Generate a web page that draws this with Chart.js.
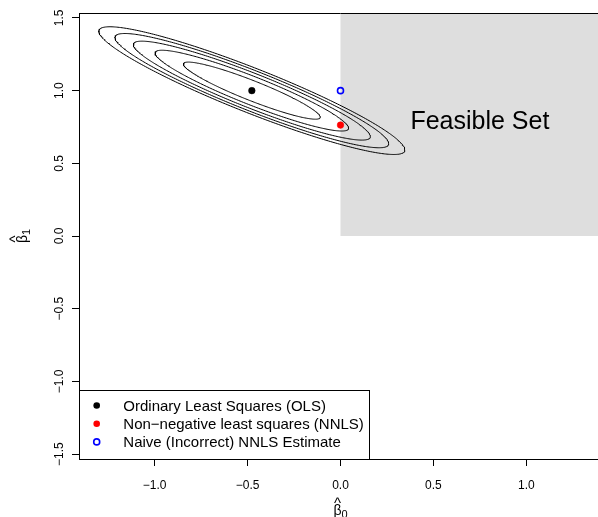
<!DOCTYPE html>
<html>
<head>
<meta charset="utf-8">
<script src="https://cdn.jsdelivr.net/npm/chart.js@4.4.1/dist/chart.umd.min.js"></script>
<style>
  html, body { margin: 0; padding: 0; background: #fff; overflow: hidden; }
  #wrap { width: 598px; height: 517px; overflow: hidden; }
</style>
</head>
<body>
<div id="wrap"><canvas id="chart" width="610" height="517" style="width:610px;height:517px"></canvas></div>
<script>
const FONT = "'Liberation Sans', Arial, Helvetica, sans-serif";

// estimates (beta0, beta1)
const olsPoint = [-0.477, 1.0];
const nnlsPoint = [0.0, 0.763];
const naivePoint = [0.0, 1.0];

// contour levels of the least squares criterion, relative to its minimum
const contourLevels = [1, 2, 3, 4, 5];
// shape of the criterion around the OLS point: var(b0), cov(b0,b1), var(b1)
const contourShape = [0.1356, -0.0671, 0.0386];

const xTicks = [-1.0, -0.5, 0.0, 0.5, 1.0];
const yTicks = [-1.5, -1.0, -0.5, 0.0, 0.5, 1.0, 1.5];
const xRange = [-1.407, 1.407];
const yRange = [-1.534, 1.534];

const legendLabels = ["Ordinary Least Squares (OLS)", "Non\u2212negative least squares (NNLS)", "Naive (Incorrect) NNLS Estimate"];
const legendColors = ["#000000", "#ff0000", "#0000ff"];
const legendFilled = [true, true, false];

function fmtTick(v) {
    return (v < 0 ? "\u2212" : "") + Math.abs(v).toFixed(1);
}

// trace the level set {b : (b - ols)' S^-1 (b - ols) = level}
function levelCurve(level) {
    const [s11, s12, s22] = contourShape;
    const l11 = Math.sqrt(s11);
    const l21 = s12 / l11;
    const l22 = Math.sqrt(s22 - l21 * l21);
    const r = Math.sqrt(level);
    const pts = [];
    const n = 360;
    for (let i = 0; i <= n; i++) {
        const t = 2 * Math.PI * i / n;
        pts.push({
            x: olsPoint[0] + r * l11 * Math.cos(t),
            y: olsPoint[1] + r * (l21 * Math.cos(t) + l22 * Math.sin(t))
        });
    }
    return pts;
}

const contourSets = contourLevels.map(lv => ({
    data: levelCurve(lv),
    showLine: true,
    borderColor: "#000",
    borderWidth: 1,
    pointRadius: 0,
    tension: 0,
    order: 2
}));

function pointSet(p, i) {
    return {
        data: [{ x: p[0], y: p[1] }],
        pointRadius: legendFilled[i] ? 3.3 : 3,
        pointBorderWidth: legendFilled[i] ? 0.5 : 1.6,
        pointBorderColor: legendColors[i],
        pointBackgroundColor: legendFilled[i] ? legendColors[i] : "rgba(0,0,0,0)",
        showLine: false,
        order: 1
    };
}

function drawHatBeta(ctx, sub) {
    // drawn around local origin: centre x = 0, baseline y = 0
    ctx.font = "14px " + FONT;
    const wb = ctx.measureText("\u03b2").width;
    ctx.font = "11px " + FONT;
    const ws = ctx.measureText(sub).width;
    const x0 = -(wb + ws) / 2;
    ctx.textAlign = "left";
    ctx.textBaseline = "alphabetic";
    ctx.font = "14px " + FONT;
    ctx.fillText("\u03b2", x0, 0);
    ctx.font = "11px " + FONT;
    ctx.fillText(sub, x0 + wb, 3);
    ctx.font = "15px " + FONT;
    ctx.textAlign = "center";
    ctx.fillText("^", x0 + wb / 2, -7);
}

const decor = {
    id: "decor",
    beforeDatasetsDraw(chart) {
        const { ctx, chartArea: a, scales: { x, y } } = chart;
        ctx.save();
        const x0 = x.getPixelForValue(0);
        const y0 = y.getPixelForValue(0);
        ctx.fillStyle = "#dedede";
        ctx.fillRect(x0, a.top, a.right - x0, y0 - a.top);
        ctx.fillStyle = "#000";
        ctx.font = "25px " + FONT;
        ctx.textAlign = "center";
        ctx.textBaseline = "alphabetic";
        ctx.fillText("Feasible Set", x.getPixelForValue(0.75), y.getPixelForValue(0.8) + 9);
        ctx.restore();
    },
    afterDraw(chart) {
        const { ctx, chartArea: a, scales: { x, y } } = chart;
        ctx.save();
        ctx.strokeStyle = "#000";
        ctx.lineWidth = 1;
        // top of the box
        ctx.beginPath();
        ctx.moveTo(a.left, Math.round(a.top) + 0.5);
        ctx.lineTo(a.right, Math.round(a.top) + 0.5);
        ctx.stroke();

        // y tick labels, rotated as in base R
        ctx.fillStyle = "#000";
        ctx.font = "12px " + FONT;
        ctx.textAlign = "center";
        ctx.textBaseline = "alphabetic";
        yTicks.forEach(v => {
            ctx.save();
            ctx.translate(63, y.getPixelForValue(v));
            ctx.rotate(-Math.PI / 2);
            ctx.fillText(fmtTick(v), 0, 0);
            ctx.restore();
        });

        // axis titles
        ctx.save();
        ctx.translate((a.left + a.right) / 2, 515);
        drawHatBeta(ctx, "0");
        ctx.restore();
        ctx.save();
        ctx.translate(27, (a.top + a.bottom) / 2);
        ctx.rotate(-Math.PI / 2);
        drawHatBeta(ctx, "1");
        ctx.restore();

        // legend, bottom left
        const bx = Math.round(a.left) + 0.5;
        const bb = Math.round(a.bottom) + 0.5;
        ctx.strokeRect(bx, bb - 69, 290, 69);
        ctx.font = "15px " + FONT;
        ctx.textAlign = "left";
        legendLabels.forEach((lab, i) => {
            const ry = bb - 54 + i * 18.2;
            ctx.beginPath();
            ctx.arc(a.left + 17.7, ry, legendFilled[i] ? 3.3 : 3, 0, 2 * Math.PI);
            if (legendFilled[i]) {
                ctx.fillStyle = legendColors[i];
                ctx.fill();
            } else {
                ctx.strokeStyle = legendColors[i];
                ctx.lineWidth = 1.6;
                ctx.stroke();
            }
            ctx.fillStyle = "#000";
            ctx.fillText(lab, a.left + 44.3, ry + 5.3);
        });
        ctx.restore();
    }
};

new Chart(document.getElementById("chart"), {
    type: "scatter",
    data: {
        datasets: [
            pointSet(olsPoint, 0),
            pointSet(nnlsPoint, 1),
            pointSet(naivePoint, 2),
            ...contourSets
        ]
    },
    options: {
        responsive: false,
        devicePixelRatio: 1,
        animation: false,
        layout: { padding: { top: 13, right: 8, left: 0, bottom: 0 } },
        plugins: { legend: { display: false }, tooltip: { enabled: false } },
        scales: {
            x: {
                type: "linear",
                min: xRange[0],
                max: xRange[1],
                afterBuildTicks: s => { s.ticks = xTicks.map(v => ({ value: v })); },
                afterFit: s => { s.height = 58; },
                grid: { drawOnChartArea: false, drawTicks: true, tickLength: 7, color: "#000", lineWidth: 1 },
                border: { display: true, color: "#000", width: 1 },
                ticks: {
                    color: "#000",
                    font: { size: 12, family: FONT },
                    padding: 12,
                    maxRotation: 0,
                    callback: v => fmtTick(v)
                }
            },
            y: {
                type: "linear",
                min: yRange[0],
                max: yRange[1],
                afterBuildTicks: s => { s.ticks = yTicks.map(v => ({ value: v })); },
                afterFit: s => { s.width = 79; },
                grid: { drawOnChartArea: false, drawTicks: true, tickLength: 7, color: "#000", lineWidth: 1 },
                border: { display: true, color: "#000", width: 1 },
                ticks: { display: false }
            }
        }
    },
    plugins: [decor]
});
</script>
</body>
</html>
